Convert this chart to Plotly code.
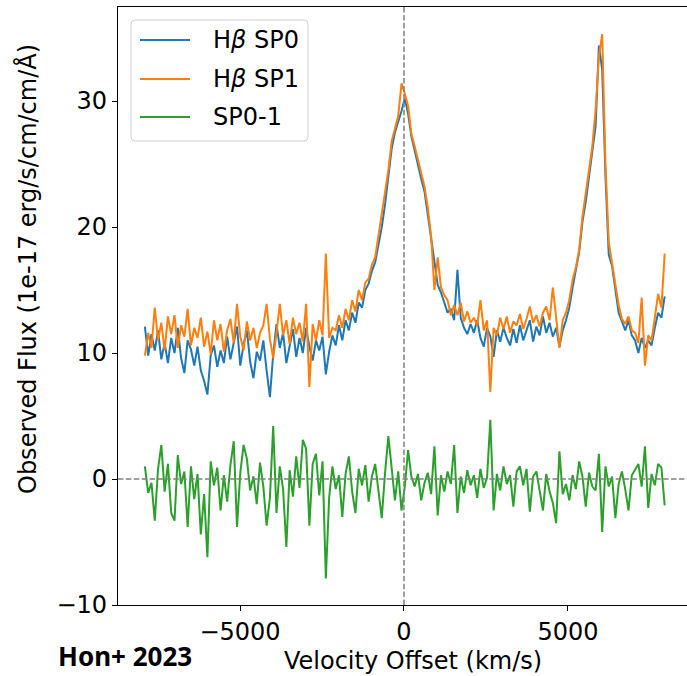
import numpy as np
import plotly.graph_objects as go

# Velocity grid (km/s): 159 samples from -7900 to 7950
V_START, V_END = -7900, 7950

# H-beta SP0 (1e-17 erg/s/cm/cm/A)
sp0 = [
    12.1, 9.8, 11.5, 10.2, 11.8, 9.5, 10.8, 9.2, 11.2, 10.0,
    12.0, 9.6, 8.4, 11.0, 10.3, 9.0, 10.5, 8.6, 7.8, 6.7,
    9.8, 10.6, 8.9, 10.2, 9.2, 11.3, 9.5, 10.8, 12.1, 9.0,
    10.7, 11.8, 9.3, 8.0, 10.1, 9.4, 11.0, 8.6, 6.5, 9.9,
    12.3, 10.4, 11.6, 9.2, 10.6, 11.9, 9.7, 11.2, 10.0, 12.0,
    10.5, 9.4, 11.0, 10.2, 11.3, 8.3, 10.1, 11.4, 10.6, 12.2,
    11.0, 12.6, 11.8, 13.2, 12.4, 14.0, 13.6, 15.0, 15.5, 16.5,
    17.2, 18.6, 20.0, 21.8, 24.0, 26.2, 27.5, 28.3, 29.2, 30.2,
    29.0, 27.2, 26.0, 25.0, 23.8, 22.8, 21.0, 19.0, 17.3, 15.4,
    14.8, 14.0, 13.2, 13.5, 12.6, 16.6, 12.8, 12.0, 11.5, 12.3,
    11.6, 12.6, 11.2, 10.5, 12.0, 11.3, 9.7, 11.8, 10.9, 12.0,
    11.2, 10.6, 11.9, 10.8, 12.2, 11.0, 11.9, 12.6, 10.9, 12.1,
    11.4, 12.9, 11.6, 12.4, 11.3, 12.0, 10.5, 11.8, 12.6, 13.6,
    15.2, 16.5, 18.0, 20.4, 22.0, 24.0, 25.8, 28.0, 34.4, 32.5,
    24.0, 17.8, 16.9, 15.0, 13.2, 12.5, 11.8, 12.6, 11.4, 11.0,
    10.0, 11.2, 10.4, 11.0, 10.6, 12.0, 13.2, 12.8, 14.5,
]

# H-beta SP1
sp1 = [
    9.8, 11.6, 10.4, 13.6, 11.0, 12.4, 10.2, 12.9, 11.5, 13.0,
    10.4, 12.2, 11.3, 13.5, 10.6, 12.0, 11.2, 12.8, 10.5, 11.7,
    9.9, 12.6, 11.0, 12.3, 10.1, 11.8, 12.7, 10.8, 13.9, 11.3,
    10.2, 12.5, 11.0, 12.0, 10.4, 11.6, 12.2, 13.9, 11.1, 9.6,
    11.6, 13.9, 11.4, 12.6, 10.7, 12.8, 11.5, 12.4, 10.9, 13.9,
    7.3, 12.3, 11.0, 12.6, 11.4, 17.9, 11.2, 12.0, 11.8, 13.0,
    12.0, 13.5, 12.6, 14.2, 13.3, 15.0, 14.2, 15.6, 15.9, 17.0,
    17.6, 19.4, 20.8, 22.6, 24.5, 26.8, 27.8, 28.8, 31.4, 30.6,
    29.6, 27.4, 26.4, 25.4, 24.3, 23.2, 21.5, 19.3, 15.0, 17.6,
    15.2, 14.6, 14.2, 13.0, 13.8, 13.0, 14.0, 12.5, 13.3, 12.4,
    12.8, 12.2, 14.2, 11.8, 12.6, 6.9, 12.0, 11.4, 12.8, 11.9,
    12.9, 11.6, 12.5, 12.2, 13.1, 11.9, 12.7, 13.7, 12.4, 13.0,
    12.1, 13.2, 13.7, 12.6, 15.2, 12.8, 10.4, 12.6, 13.2, 14.2,
    15.8, 16.8, 18.2, 20.8, 22.6, 24.5, 26.4, 29.3, 33.5, 35.3,
    25.0, 18.8, 17.2, 15.6, 13.8, 12.7, 12.3, 12.9, 11.8, 11.6,
    10.8, 14.4, 9.0, 11.4, 11.0, 12.8, 14.7, 13.6, 17.9,
]

# SP0 - SP1 difference
diff = [
    1.0, -1.1, -0.3, -3.3, 0.8, 2.7, -1.0, 1.2, -2.7, -3.3,
    1.9, -0.4, 0.6, -3.8, 1.0, -1.6, 0.4, -4.4, -1.2, -6.2,
    1.4, -0.5, 0.9, -2.5, 0.3, -1.8, 1.1, 3.0, -3.8, 0.5,
    2.7, 1.6, -0.9, 0.2, -2.0, 1.3, -0.6, -3.7, -1.5, 4.2,
    -2.7, 1.0, -0.8, -5.4, 0.7, -1.4, 1.8, -0.7, 3.1, 2.4,
    -3.7, 1.2, 2.0, -1.3, 1.4, -7.9, -1.5, 1.0, -0.8, 0.3,
    -3.0, 0.4, 1.8, -1.0, -2.7, 0.8, -0.5, 1.1, -1.8, 0.2,
    1.2, -1.0, -3.1, 0.5, 3.4, 0.9, -1.7, 0.6, -2.5, -0.6,
    2.3, 0.2, -0.6, 0.4, -1.7, -0.3, 0.5, -1.2, 2.6, -2.9,
    0.3, -1.0, 0.6, -0.4, 2.7, -2.7, 0.2, -1.1, 0.7, -0.5,
    0.3, -1.5, 0.8, -0.7, 0.1, 4.7, -2.5, 0.4, -0.9, 1.0,
    -0.4, 0.3, -2.2, 0.6, 1.0, -0.5, 0.8, -2.6, 0.2, 0.6,
    -0.8, -2.5, 0.4, -1.0, -1.9, -3.5, 2.2, -1.2, -0.4, -1.7,
    0.3, -0.8, 1.4, 0.2, -2.2, 0.5, -0.6, -0.9, 2.0, -4.2,
    1.0, -0.6, 0.2, -3.1, -0.4, 0.6, -0.8, -2.5, 0.3, 0.8,
    1.2, -0.6, 2.6, -2.3, 0.4, -0.5, 1.2, 0.9, -2.1,
]

x_ticks = [-5000, 0, 5000]
y_ticks = [-10, 0, 10, 20, 30]

names = ["H<i>β</i> SP0", "H<i>β</i> SP1", "SP0-1"]
colors = ["#1f77b4", "#ff7f0e", "#2ca02c"]

FONT = "DejaVu Sans"
FS = 24

W, H = 687, 676
ML, MR, MT, MB = 118, 0, 7, 71
PW, PH = W - ML - MR, H - MT - MB


def px(xp):
    return (xp - ML) / PW


def py(yp):
    return (H - MB - yp) / PH


fig = go.Figure()
for i, (ys, nm, col) in enumerate(zip([sp0, sp1, diff], names, colors)):
    v = np.linspace(V_START, V_END, len(ys))
    fig.add_trace(go.Scatter(
        x=v, y=ys, mode="lines", name=nm,
        line=dict(color=col, width=2), showlegend=False,
    ))

# reference dashed lines
fig.add_vline(x=0, line=dict(color="#808080", width=1.5, dash="5.5px,2.4px"), layer="above")
fig.add_hline(y=0, line=dict(color="#808080", width=1.5, dash="5.5px,2.4px"), layer="above")

# matplotlib-style legend box (rounded frame, line samples, labels)
x0, x1 = px(131), px(308)
y0, y1 = py(141), py(20)
rx, ry = 4 / PW, 4 / PH
frame = (f"M {x0+rx},{y1} L {x1-rx},{y1} Q {x1},{y1} {x1},{y1-ry} "
         f"L {x1},{y0+ry} Q {x1},{y0} {x1-rx},{y0} L {x0+rx},{y0} "
         f"Q {x0},{y0} {x0},{y0+ry} L {x0},{y1-ry} Q {x0},{y1} {x0+rx},{y1} Z")
fig.add_shape(type="path", path=frame, xref="paper", yref="paper", layer="above",
              fillcolor="rgba(255,255,255,0.8)", line=dict(color="#d0d0d0", width=1))
row_y = [40, 79, 117]
annotations = []
for nm, col, ry_px in zip(names, colors, row_y):
    fig.add_shape(type="line", xref="paper", yref="paper", layer="above",
                  x0=px(140), x1=px(190), y0=py(ry_px), y1=py(ry_px),
                  line=dict(color=col, width=2))
    annotations.append(dict(text=nm, xref="paper", yref="paper", x=px(211), y=py(ry_px),
                            xanchor="left", yanchor="middle", showarrow=False,
                            font=dict(family=FONT, size=FS, color="black")))

annotations += [
    dict(text="Velocity Offset (km/s)", xref="paper", yref="paper",
         x=px(413), y=py(661), xanchor="center", yanchor="middle",
         showarrow=False, font=dict(family=FONT, size=FS)),
    dict(text="Observed Flux (1e-17 erg/s/cm/cm/Å)", xref="paper", yref="paper",
         x=px(27), y=py(269), xanchor="center", yanchor="middle", textangle=-90,
         showarrow=False, font=dict(family=FONT, size=FS)),
    dict(text="<b>Hon+ 2023</b>", xref="paper", yref="paper",
         x=px(125), y=py(656), xanchor="center", yanchor="middle",
         showarrow=False, font=dict(family="Noto Sans", size=26, color="black")),
]

fig.update_layout(
    width=W, height=H, autosize=False,
    margin=dict(l=ML, r=MR, t=MT, b=MB),
    plot_bgcolor="white", paper_bgcolor="white",
    font=dict(family=FONT, size=FS, color="black"),
    showlegend=False,
    xaxis=dict(
        range=[-8720, 8630], tickvals=x_ticks,
        ticktext=[("−" + str(abs(t))) if t < 0 else str(t) for t in x_ticks],
        ticks="outside", ticklen=5, tickwidth=1.1, tickcolor="black",
        showline=True, linecolor="black", linewidth=1.1, mirror=True,
        showgrid=False, zeroline=False, tickfont=dict(size=FS),
    ),
    yaxis=dict(
        range=[-10.0, 37.46], tickvals=y_ticks,
        ticktext=[("−" + str(abs(t))) if t < 0 else str(t) for t in y_ticks],
        ticks="outside", ticklen=5, tickwidth=1.1, tickcolor="black",
        showline=True, linecolor="black", linewidth=1.1,
        showgrid=False, zeroline=False, tickfont=dict(size=FS),
    ),
    annotations=annotations,
)

fig.write_html("out.html")
